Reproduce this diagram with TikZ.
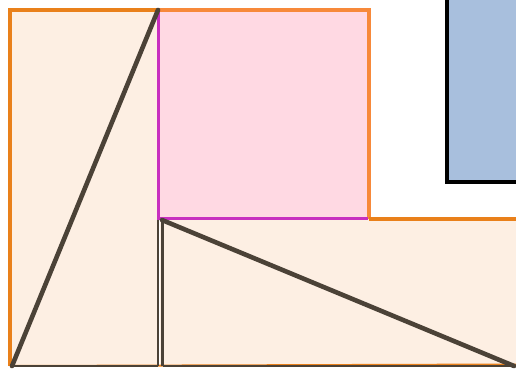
\documentclass[tikz,border=0pt]{standalone}
\definecolor{peach}{HTML}{FDEFE3}
\definecolor{pinkf}{HTML}{FFD9E3}
\definecolor{orangeL}{HTML}{E9801A}
\definecolor{orangeR}{HTML}{F7893A}
\definecolor{magen}{HTML}{C82FC0}
\definecolor{darkl}{HTML}{4B4237}
\definecolor{bluef}{HTML}{A8BFDD}
\tikzset{
  edgeo/.style={draw=orangeL,line width=3.2pt},
  diag/.style={draw=darkl,line width=4.6pt,line cap=round},
  darkedge/.style={draw=darkl,line width=2.6pt},
}
\begin{document}
\begin{tikzpicture}[x=1pt,y=-1pt]
\useasboundingbox (0,0) rectangle (516,369);
% coordinates
\coordinate (A) at (10,10);
\coordinate (B) at (158,10);
\coordinate (C) at (10,366);
\coordinate (D) at (158,366);
\coordinate (P) at (369,10);
\coordinate (Q) at (369,219);
\coordinate (R) at (160,219);
\coordinate (E) at (163,366);
\coordinate (F) at (520,366);
\coordinate (G) at (520,219);
% blue rectangle
\fill[bluef] (447,-5) rectangle (520,182);
\draw[black,line width=3.4pt] (447,-5) -- (447,182) -- (520,182);
% left rectangle
\fill[peach] (A) rectangle (D);
% pink square
\fill[pinkf] (B) rectangle (Q);
% bottom right rectangle
\fill[peach] (R) rectangle (F);
% orange edges
\draw[edgeo] (C) -- (A) -- (B);
\draw[draw=orangeR,line width=3.2pt] (B) -- (P) -- (Q);
\draw[draw=orangeL,line width=3.2pt] (Q) -- (G);
\draw[draw=orangeL,line width=2pt] (C) -- ([yshift=1.5pt]F);
% dark edges
\draw[darkedge] (B) -- (D);
\draw[darkedge] (162.5,219) -- (162.5,366);
\draw[darkedge] (D) -- (C);
\draw[darkedge] (E) -- (F);
% magenta edges
\draw[draw=magen,line width=2.8pt] (158.5,11) -- (158.5,218.5) -- (368,218.5);
% diagonals
\draw[diag] (12,366) -- (B);
\draw[diag] (162,220) -- (514,366);
\end{tikzpicture}
\end{document}
